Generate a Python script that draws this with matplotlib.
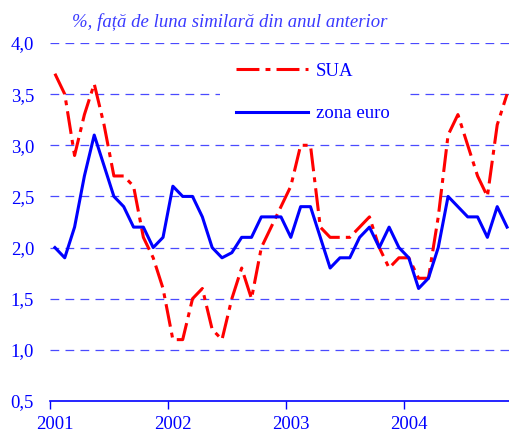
import numpy as np
import matplotlib
matplotlib.use("Agg")
import matplotlib.pyplot as plt

plt.rcParams['font.family'] = ['Liberation Serif', 'DejaVu Serif']

# monthly data, Jan 2001 - Nov 2004 (% y/y)
months = np.arange(47) + 0.5
sua = [3.7, 3.5, 2.9, 3.3, 3.6, 3.2, 2.7, 2.7, 2.6, 2.1, 1.9, 1.6,
       1.1, 1.1, 1.5, 1.6, 1.2, 1.1, 1.5, 1.8, 1.5, 2.0, 2.2, 2.4,
       2.6, 3.0, 3.0, 2.2, 2.1, 2.1, 2.1, 2.2, 2.3, 2.0, 1.8, 1.9,
       1.9, 1.7, 1.7, 2.3, 3.1, 3.3, 3.0, 2.7, 2.5, 3.2, 3.5]
zona_euro = [2.0, 1.9, 2.2, 2.7, 3.1, 2.8, 2.5, 2.4, 2.2, 2.2, 2.0, 2.1,
             2.6, 2.5, 2.5, 2.3, 2.0, 1.9, 1.95, 2.1, 2.1, 2.3, 2.3, 2.3,
             2.1, 2.4, 2.4, 2.1, 1.8, 1.9, 1.9, 2.1, 2.2, 2.0, 2.2, 2.0,
             1.9, 1.6, 1.7, 2.0, 2.5, 2.4, 2.3, 2.3, 2.1, 2.4, 2.2]
year_ticks = [0, 12, 24, 36]
year_labels = ['2001', '2002', '2003', '2004']
y_ticks = [0.5, 1.0, 1.5, 2.0, 2.5, 3.0, 3.5, 4.0]

blue = '#0000ff'
fs = 13.5

fig = plt.figure(figsize=(5.1, 4.34), dpi=100)
ax = fig.add_axes([50 / 510, 1 - 401 / 434, 460 / 510, 358 / 434])

# grid
for yv in y_ticks[1:]:
    ax.axhline(yv, color='#4a4aff', lw=0.9, dashes=(7, 5), zorder=1)

ax.plot(months, sua, color='#ff0000', lw=2.2, linestyle=(0, (7.5, 2, 1.6, 2)),
        solid_joinstyle='round', dash_joinstyle='round', label='SUA', zorder=3)
ax.plot(months, zona_euro, color=blue, lw=2.2, solid_joinstyle='round',
        label='zona euro', zorder=4)

ax.set_xlim(0, 46.8)
ax.set_ylim(0.5, 4.0)

ax.set_yticks(y_ticks)
ax.set_yticklabels([f'{v:.1f}'.replace('.', ',') for v in y_ticks],
                   color=blue, fontsize=fs)
ax.tick_params(axis='y', length=0, pad=11.5)

ax.set_xticks(year_ticks)
ax.set_xticklabels([])
ax.tick_params(axis='x', which='major', direction='out', length=6,
               color=blue, width=1)
ax.set_xticks([t + 0.5 for t in year_ticks], minor=True)
ax.set_xticklabels(year_labels, minor=True, color=blue, fontsize=fs)
ax.tick_params(axis='x', which='minor', length=0, pad=10.5)

for s in ['top', 'right', 'left']:
    ax.spines[s].set_visible(False)
ax.spines['bottom'].set_color(blue)
ax.spines['bottom'].set_linewidth(1.2)

leg = ax.legend(loc='upper left', bbox_to_anchor=(168 / 460, 0.995),
                frameon=True, facecolor='white', edgecolor='none',
                fancybox=False, framealpha=1, fontsize=fs,
                handlelength=3.85, handletextpad=0.4, labelspacing=1.35,
                borderpad=0.85, borderaxespad=0.1)
for t in leg.get_texts():
    t.set_color(blue)
leg.set_zorder(5)

fig.text(72 / 510, 1 - 22 / 434, '%, față de luna similară din anul anterior',
         color='#3a3aff', fontsize=fs, style='italic', va='center', ha='left')

fig.savefig('out.png', dpi=100)
